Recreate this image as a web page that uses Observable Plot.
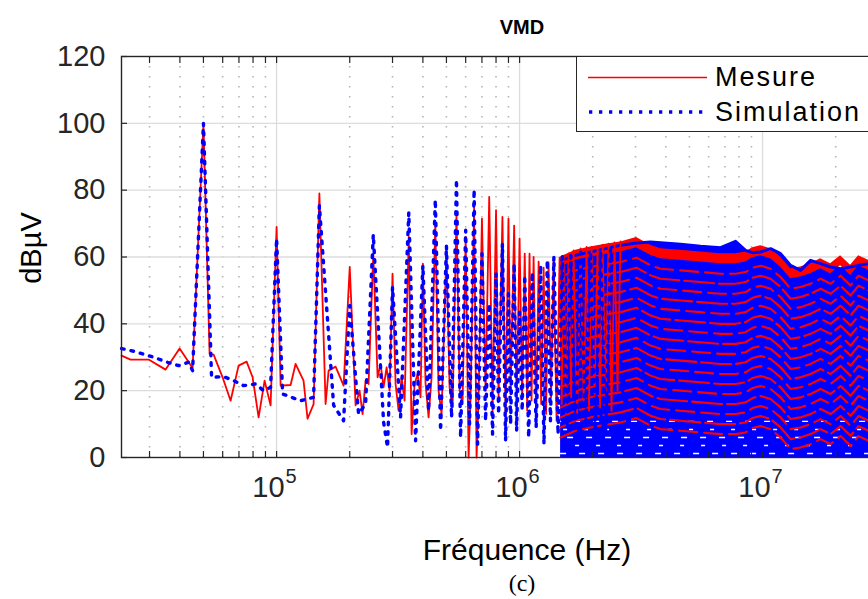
<!DOCTYPE html>
<html><head><meta charset="utf-8">
<script src="https://cdn.jsdelivr.net/npm/d3@7"></script>
<script src="https://cdn.jsdelivr.net/npm/@observablehq/plot@0.6"></script>
<style>
html,body{margin:0;padding:0;overflow:hidden;background:#fff;width:868px;height:599px}
#wrap{position:relative;width:880px;height:599px;font-family:"Liberation Sans",Arial,Helvetica,sans-serif;color:#262626}
.lbl{position:absolute;white-space:nowrap;line-height:1}
</style></head><body><div id="wrap"></div>
<script>
// ---------- data ----------
const mesureFreq = [2.302e4,2.506e4,2.974e4,3.493e4,3.989e4,4.511e4,5.0e4,5.30e4,5.506e4,5.995e4,6.467e4,6.976e4,7.526e4,7.966e4,8.434e4,8.925e4,9.447e4,
 1.0e5,1.039e5,1.142e5,1.197e5,1.291e5,1.341e5,1.420e5,1.5e5,1.591e5,1.637e5,1.749e5,1.887e5,2.0e5,2.114e5,2.195e5,2.259e5,2.324e5,2.391e5,2.5e5,
 2.604e5,2.679e5,2.756e5,2.836e5,2.917e5,3.0e5,3.088e5,3.177e5,3.268e5,3.363e5,3.5e5,3.594e5,3.698e5,3.804e5,3.913e5,4.0e5,4.103e5,4.222e5,4.344e5,4.5e5,
 4.642e5,4.775e5,5.0e5,5.151e5,5.3e5,5.5e5,5.664e5,5.827e5,6.0e5,6.169e5,6.287e5,6.5e5,6.653e5,6.782e5,7.0e5,7.245e5,7.5e5,7.743e5,8.0e5,8.197e5,8.5e5,
 8.758e5,9.0e5,9.184e5,9.5e5,9.721e5,1.0e6,1.025e6,1.05e6,1.075e6,1.099e6,1.12e6,1.142e6,1.17e6,1.198e6,1.227e6,1.256e6,1.285e6,1.316e6,1.348e6,1.380e6,
 1.42e6,1.461e6,1.49e6,1.518e6,1.555e6,1.591e6,1.63e6,1.668e6,1.725e6,1.782e6,1.835e6,1.887e6,1.93e6,1.979e6,2.035e6,2.094e6,2.145e6,2.195e6,2.26e6,
 2.324e6,2.39e6,2.460e6,2.53e6,2.604e6];
const mesureDb = [30.5,29.3,29.3,26.3,32.6,26.8,100,31,30.8,24,17,27.5,28.7,24,12,23,15.6,
 69,21.5,21.7,28,23,11.6,16,79,16,26,27.2,21.5,57,15.6,20,13,23,22,61,
 24,28,21,27,20,55,22,14,24,17,66,7,22,25,18,58,22,12,24,70,
 20,13,62,21,15,73,20,16,66,0,18,75,0,18,71.5,20,78,14,74,18,72,
 13,71.5,19,69.4,15,65.5,18,61,14,61,17,60,12,58.6,16,56.8,13,58.4,18,59,
 11,59.8,16,60.4,13,61.1,18,62,12,62.6,17,63,14,63,19,63.2,15,63.6,18,
 64,14,64.4,20,64.7];

const simFreq = [2.302e4,2.578e4,3.117e4,3.559e4,3.951e4,4.344e4,4.511e4,5.0e4,5.40e4,6.052e4,6.653e4,7.315e4,8.196e4,8.841e4,9.447e4,
 1.0e5,1.059e5,1.255e5,1.354e5,1.420e5,1.5e5,1.717e5,1.887e5,2.0e5,2.175e5,2.324e5,2.5e5,2.756e5,2.862e5,3.0e5,3.237e5,3.5e5,3.733e5,4.0e5,
 4.222e5,4.5e5,4.730e5,5.0e5,5.251e5,5.5e5,5.718e5,6.0e5,6.226e5,6.5e5,6.718e5,7.0e5,7.245e5,7.5e5,7.743e5,8.0e5,8.197e5,8.5e5,8.758e5,9.0e5,
 9.184e5,9.5e5,9.721e5,1.0e6,1.025e6,1.05e6,1.09e6,1.128e6,1.17e6,1.221e6,1.26e6,1.300e6,1.34e6,1.384e6,1.44e6,1.499e6,1.56e6,1.622e6,1.70e6,
 1.782e6,1.87e6,1.960e6,2.05e6,2.154e6,2.26e6,2.369e6];
const simDb = [32.6,31.8,30,28.5,27.5,28.5,26,100,24,24.2,23,21.5,22,20,21,
 65.5,19,17,17.6,18,75.4,15.6,11,45.5,13,16,66.7,10.6,3,51,12,73.3,5,57.5,
 14,77.2,8,63.4,12,83.2,6,68,10,80.2,4,61,11,46,7,55,13,64,5,49,
 10,58,8,43.5,14,54.5,6,55.4,9,57.5,4,59,11,60,7,60.1,10,60.4,5,
 61.4,9,61.5,6,62,8,62.5];

// dense high-frequency part: upper envelopes of both traces
const denseFreq = [1.475e6,1.700e6,1.960e6,2.259e6,2.604e6,3.030e6,3.460e6,3.804e6,4.598e6,5.557e6,6.717e6,7.743e6,8.511e6,9.095e6,9.812e6,
 1.079e7,1.186e7,1.304e7,1.433e7,1.576e7,1.733e7,1.905e7,2.094e7,2.302e7,2.484e7,2.731e7,3.003e7];
const denseMesureTop = [60,62,63,63.8,64.5,65.8,63.5,62.5,62,61.5,61,61,61.5,62.8,63.4,
 62.5,60,56.5,57,58,59.5,58,60.4,57.5,60.4,59,58];
const denseSimTop = [59,60.5,61.5,62.5,63.5,64.2,64.5,64.3,63.8,63.2,62.8,64.7,62,61.3,61.5,
 62.5,61,57.5,56,59,58,57,56.5,57,57.5,58,58];
const mesureBandOffsets = [6,9,12,15,18,21,24,27,30,33,36,39,42,45,48,51,54];
const gapLevels = [1.2,3.6,6,8.4,10.8];

const yTicks = [0,20,40,60,80,100,120];
const xMajor = [1e5,1e6,1e7];
const xMinor = [];
for (const d of [1e4,1e5,1e6,1e7]) for (let k = 2; k <= 9; k++) { const v = d*k; if (v > 2.3e4 && v < 3e7) xMinor.push(v); }

// ---------- chart ----------
const RED = "#ff0000", BLUE = "#0000ff", INK = "#262626";
const mes = mesureFreq.map((f,i) => ({f, v: mesureDb[i]}));
const sim = simFreq.map((f,i) => ({f, v: simDb[i]}));
const dense = denseFreq.map((f,i) => ({f, r: denseMesureTop[i], b: denseSimTop[i]}));
const fStart = denseFreq[0], fEnd = denseFreq[denseFreq.length-1];

const marks = [
  Plot.ruleX(xMinor, {stroke:"#b4b4b4", strokeWidth:1.6, strokeDasharray:"1.6,8.4"}),
  Plot.gridX(xMajor, {stroke:"#dcdcdc", strokeOpacity:1, strokeWidth:1.3}),
  Plot.gridY([20,40,60,80,100], {stroke:"#dcdcdc", strokeOpacity:1, strokeWidth:1.3}),
  Plot.areaY(dense, {x:"f", y1:0, y2:"b", fill:BLUE}),
  ...gapLevels.map((g,j) => Plot.ruleY([g], {x1: fStart, x2: fEnd, stroke:"#fff", strokeWidth:1.4, strokeDasharray: j % 2 ? "4,17" : "6,13", strokeDashoffset: j*6})),
  ...mesureBandOffsets.map((o,j) => Plot.line(dense, {x:"f", y: d => d.r - o, stroke:RED, strokeWidth:2.1, strokeDasharray: j % 2 ? "30,5" : "18,7", strokeDashoffset: j*11})),
  Plot.areaY(dense, {x:"f", y1: d => d.r - 3, y2:"r", fill:RED}),
  Plot.line(dense, {x:"f", y:"b", stroke:BLUE, strokeWidth:3}),
  Plot.line(mes, {x:"f", y:"v", stroke:RED, strokeWidth:1.8}),
  Plot.line(sim, {x:"f", y:"v", stroke:BLUE, strokeWidth:3.4, strokeDasharray:"2.6,7"}),
  Plot.frame({stroke:INK, strokeWidth:1.4}),
  Plot.axisX([...xMajor, ...xMinor], {anchor:"bottom", tickSize:-6, tickFormat:() => "", label:null, stroke:INK, strokeWidth:1.2}),
  Plot.axisX([...xMajor, ...xMinor], {anchor:"top", tickSize:-6, tickFormat:() => "", label:null, stroke:INK, strokeWidth:1.2}),
  Plot.axisY(yTicks, {anchor:"left", tickSize:-6, tickFormat:() => "", label:null, stroke:INK, strokeWidth:1.2}),
  Plot.axisY(yTicks, {anchor:"left", tickSize:0, tickPadding:16, label:null, fontSize:29, fill:INK}),
  Plot.text(xMajor, {x: d => d, frameAnchor:"bottom", text: () => "10", dy:39, dx:8, textAnchor:"end", fontSize:29, fill:INK}),
  Plot.text(xMajor, {x: d => d, frameAnchor:"bottom", text: d => String(Math.round(Math.log10(d))), dy:25, dx:9, textAnchor:"start", fontSize:20, fill:INK})
];

const chart = Plot.plot({
  width: 880, height: 599,
  marginLeft: 121, marginTop: 56, marginRight: 2, marginBottom: 142,
  style: {fontFamily:'"Liberation Sans", Arial, sans-serif', color: INK, background:"#fff", overflow:"visible"},
  x: {type:"log", domain:[2.3e4, 3e7], axis:null},
  y: {domain:[0,120], axis:null},
  marks
});
const wrap = document.getElementById("wrap");
wrap.appendChild(chart);

function label(text, css) {
  const d = document.createElement("div");
  d.className = "lbl"; d.textContent = text;
  Object.assign(d.style, css);
  wrap.appendChild(d);
  return d;
}
label("VMD", {left:"522px", top:"27px", transform:"translate(-50%,-50%)", fontWeight:"bold", fontSize:"20px", color:"#000"});
label("Fréquence (Hz)", {left:"527px", top:"550px", transform:"translate(-50%,-50%)", fontSize:"30px", color:"#000"});
label("dBµV", {left:"31px", top:"248px", transform:"translate(-50%,-50%) rotate(-90deg)", fontSize:"29px", color:"#000"});
label("(c)", {left:"522px", top:"583px", transform:"translate(-50%,-50%)", fontSize:"24px", fontFamily:'"Liberation Serif","Times New Roman",serif', color:"#000"});

// legend
const lg = document.createElement("div");
Object.assign(lg.style, {position:"absolute", left:"576px", top:"56px", width:"310px", height:"76px", border:"1.4px solid "+INK, background:"#fff", boxSizing:"border-box"});
lg.innerHTML = `<svg width="135" height="76" style="position:absolute;left:0;top:0">
<line x1="11" x2="130" y1="20.5" y2="20.5" stroke="${RED}" stroke-width="1.6"/>
<line x1="12" x2="130" y1="55" y2="55" stroke="${BLUE}" stroke-width="3.6" stroke-dasharray="3.3,6.7"/></svg>`;
wrap.appendChild(lg);
label("Mesure", {left:"715px", top:"77px", transform:"translateY(-50%)", fontSize:"27px", color:"#000", letterSpacing:"2px"});
label("Simulation", {left:"715px", top:"112px", transform:"translateY(-50%)", fontSize:"27px", color:"#000", letterSpacing:"2px"});
</script></body></html>
